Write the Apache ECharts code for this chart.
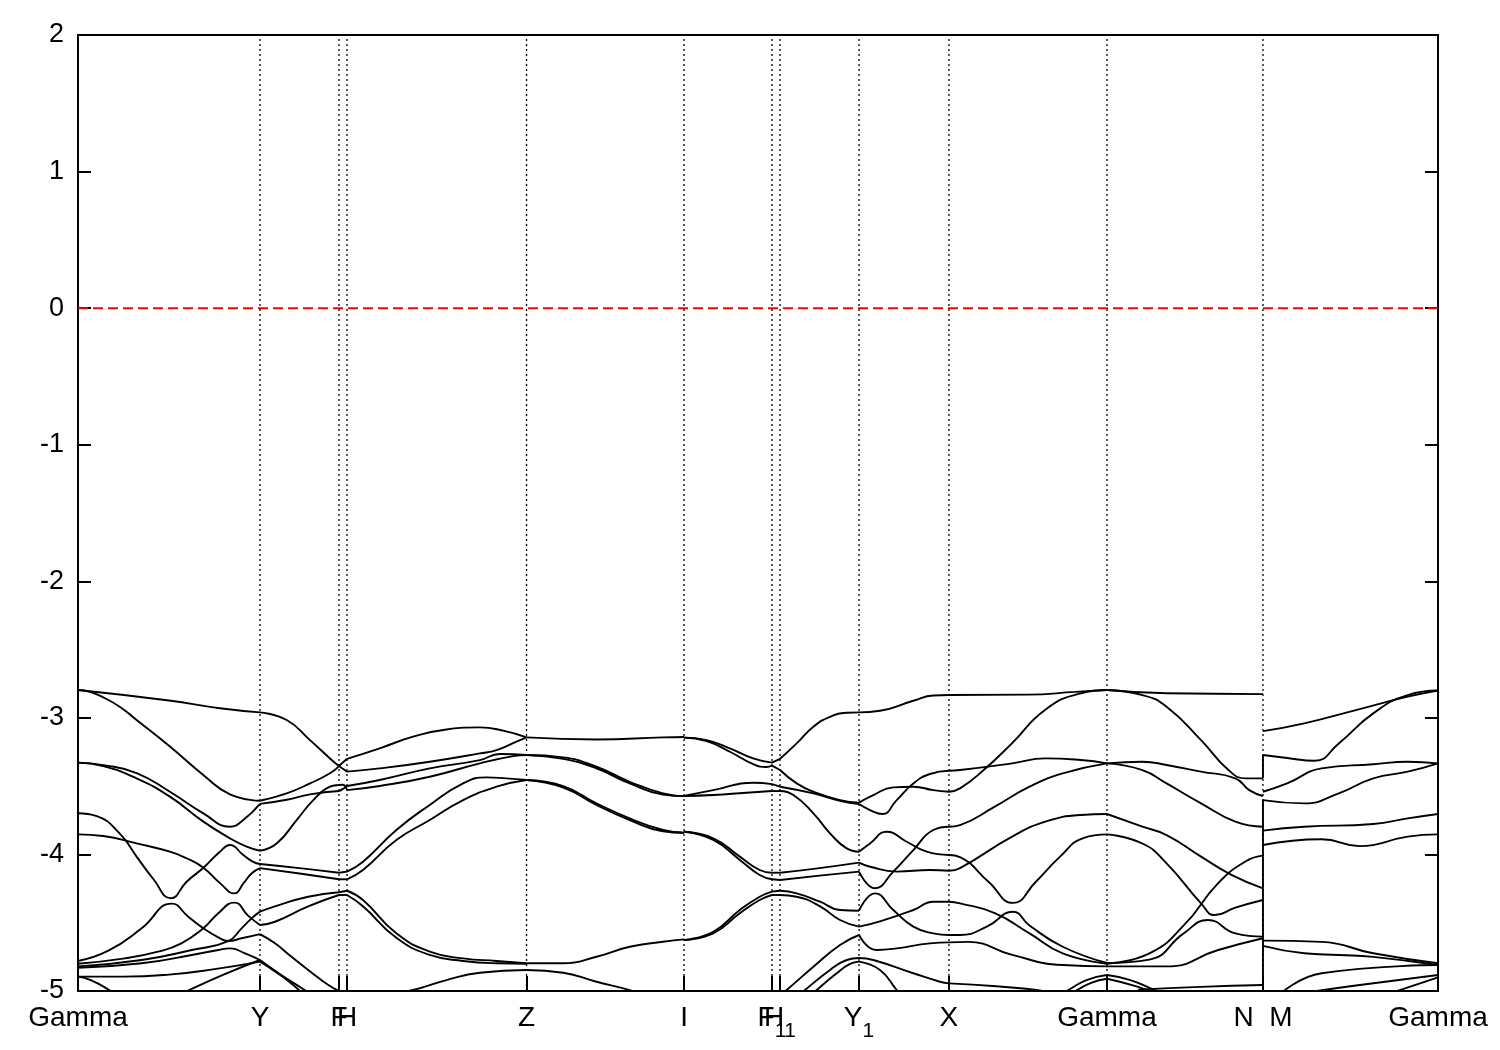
<!DOCTYPE html>
<html>
<head>
<meta charset="utf-8">
<script src="https://cdn.jsdelivr.net/npm/echarts@6/dist/echarts.min.js"></script>
<style>
html,body{margin:0;padding:0;background:#fff;}
#chart{width:1500px;height:1050px;}
</style>
</head>
<body>
<div id="chart"></div>
<script>
// High-symmetry points along the k-path (path fraction) and their labels
const kLabels = ['Gamma','Y','F','H','Z','I','F_1','H_1','Y_1','X','Gamma','N  M','Gamma'];
const kPos = [0, 0.1338, 0.1919, 0.1978, 0.3298, 0.4456, 0.5103, 0.5162, 0.5743, 0.6404, 0.7566, 0.8713, 1.0];
const yRange = [-5, 2];
const fermiLevel = 0;

// Bands per segment: each curve is a list of [fraction along segment, energy (eV)]
const bandsGammaY = [
  [[0,-2.796],[0.5,-2.873],[0.78,-2.93],[1,-2.96]],
  [[0,-2.796],[0.066,-2.81],[0.139,-2.85],[0.231,-2.92],[0.322,-3.016],[0.505,-3.21],[0.69,-3.42],[0.835,-3.56],[1,-3.607]],
  [[0,-3.328],[0.139,-3.346],[0.322,-3.404],[0.505,-3.541],[0.689,-3.699],[0.835,-3.797],[0.908,-3.748],[1,-3.63]],
  [[0,-3.328],[0.139,-3.353],[0.322,-3.443],[0.505,-3.577],[0.689,-3.76],[0.835,-3.882],[0.927,-3.943],[1,-3.973]],
  [[0,-3.699],[0.103,-3.72],[0.231,-3.85],[0.322,-4.016],[0.414,-4.18],[0.51,-4.321],[0.597,-4.20],[0.689,-4.097],[0.78,-3.98],[0.835,-3.931],[0.908,-4.004],[0.963,-4.055],[1,-4.07]],
  [[0,-3.853],[0.139,-3.865],[0.322,-3.919],[0.505,-3.98],[0.597,-4.028],[0.689,-4.097],[0.78,-4.21],[0.86,-4.285],[0.91,-4.21],[0.955,-4.138],[1,-4.10]],
  [[0,-4.78],[0.167,-4.705],[0.35,-4.541],[0.515,-4.36],[0.606,-4.456],[0.689,-4.541],[0.771,-4.607],[0.826,-4.634],[0.899,-4.614],[1,-4.583]],
  [[0,-4.80],[0.258,-4.761],[0.44,-4.712],[0.568,-4.651],[0.689,-4.541],[0.771,-4.43],[0.859,-4.353],[0.936,-4.45],[1,-4.517]],
  [[0,-4.82],[0.35,-4.773],[0.625,-4.70],[0.826,-4.634],[0.899,-4.541],[0.954,-4.468],[1,-4.419]],
  [[0,-4.83],[0.35,-4.797],[0.625,-4.736],[0.771,-4.70],[0.835,-4.688],[0.918,-4.724],[1,-4.773]],
  [[0,-4.895],[0.25,-4.895],[0.5,-4.88],[0.75,-4.84],[1,-4.785]],
  [[0.55,-5.03],[0.6,-5.0],[0.8,-4.88],[1,-4.773]],
  [[0,-4.895],[0.07,-4.92],[0.167,-4.99],[0.23,-5.05]]
];
const bandsYF = [
  [[0,-2.96],[0.338,-3.016],[0.633,-3.163],[0.886,-3.297],[1,-3.353]],
  [[0,-3.607],[0.338,-3.553],[0.633,-3.48],[0.886,-3.406],[1,-3.353]],
  [[0,-3.63],[0.338,-3.60],[0.633,-3.56],[1,-3.536]],
  [[0,-3.973],[0.211,-3.92],[0.464,-3.748],[0.675,-3.602],[0.886,-3.504],[1,-3.492]],
  [[0,-4.07],[0.5,-4.10],[1,-4.134]],
  [[0,-4.10],[0.5,-4.14],[1,-4.182]],
  [[0,-4.419],[0.19,-4.38],[0.61,-4.31],[1,-4.277]],
  [[0,-4.517],[0.19,-4.493],[0.61,-4.38],[1,-4.297]],
  [[0,-4.583],[0.19,-4.651],[0.40,-4.75],[0.61,-4.846],[0.865,-4.956],[1,-5.0]],
  [[0,-4.773],[0.27,-4.883],[0.565,-4.993],[0.7,-5.05]],
  [[0,-4.785],[0.2,-4.86],[0.45,-4.97],[0.55,-5.03]]
];
const bandsFH = [
  [[0,-3.353],[1,-3.30]],
  [[0,-3.353],[1,-3.394]],
  [[0,-3.492],[0.5,-3.49],[1,-3.529]],
  [[0,-3.536],[0.5,-3.52],[1,-3.499]],
  [[0,-4.134],[1,-4.126]],
  [[0,-4.182],[1,-4.182]],
  [[0,-4.277],[1,-4.266]],
  [[0,-4.297],[1,-4.297]]
];
const bandsHZ = [
  [[0,-3.30],[0.182,-3.223],[0.368,-3.138],[0.554,-3.085],[0.74,-3.07],[0.87,-3.094],[1,-3.143]],
  [[0,-3.394],[0.182,-3.37],[0.461,-3.321],[0.74,-3.26],[0.833,-3.236],[0.944,-3.174],[1,-3.143]],
  [[0,-3.499],[0.182,-3.455],[0.461,-3.37],[0.74,-3.309],[0.851,-3.265],[1,-3.272]],
  [[0,-3.529],[0.182,-3.499],[0.461,-3.431],[0.74,-3.333],[0.926,-3.28],[1,-3.272]],
  [[0,-4.126],[0.089,-4.053],[0.275,-3.821],[0.461,-3.638],[0.647,-3.48],[0.777,-3.436],[0.888,-3.443],[1,-3.455]],
  [[0,-4.182],[0.089,-4.114],[0.275,-3.895],[0.461,-3.748],[0.647,-3.602],[0.833,-3.504],[1,-3.455]],
  [[0,-4.266],[0.089,-4.334],[0.275,-4.578],[0.461,-4.712],[0.647,-4.761],[0.833,-4.78],[1,-4.797]],
  [[0,-4.297],[0.089,-4.38],[0.275,-4.61],[0.461,-4.736],[0.647,-4.78],[0.833,-4.797],[1,-4.80]],
  [[0.2,-5.03],[0.368,-4.993],[0.554,-4.92],[0.74,-4.866],[1,-4.846]]
];
const bandsZI = [
  [[0,-3.143],[0.444,-3.158],[0.867,-3.143],[1,-3.14]],
  [[0,-3.272],[0.233,-3.289],[0.444,-3.358],[0.655,-3.468],[0.867,-3.553],[1,-3.573]],
  [[0,-3.272],[0.233,-3.30],[0.444,-3.37],[0.655,-3.48],[0.867,-3.562],[1,-3.573]],
  [[0,-3.455],[0.233,-3.50],[0.444,-3.626],[0.655,-3.736],[0.867,-3.821],[1,-3.841]],
  [[0,-3.455],[0.233,-3.51],[0.444,-3.638],[0.655,-3.748],[0.867,-3.83],[1,-3.841]],
  [[0,-4.797],[0.233,-4.797],[0.444,-4.749],[0.655,-4.676],[0.867,-4.639],[1,-4.622]],
  [[0,-4.846],[0.233,-4.866],[0.444,-4.932],[0.655,-4.993],[0.761,-5.03]]
];
const bandsIF1 = [
  [[0,-3.145],[0.257,-3.163],[0.521,-3.223],[0.785,-3.297],[1,-3.328]],
  [[0,-3.145],[0.257,-3.17],[0.521,-3.248],[0.785,-3.338],[0.936,-3.36],[1,-3.35]],
  [[0,-3.572],[0.332,-3.529],[0.785,-3.475],[1,-3.485]],
  [[0,-3.572],[0.332,-3.565],[0.709,-3.548],[1,-3.536]],
  [[0,-3.834],[0.332,-3.882],[0.634,-4.016],[0.86,-4.114],[1,-4.134]],
  [[0,-3.834],[0.332,-3.894],[0.634,-4.04],[0.86,-4.151],[1,-4.182]],
  [[0,-4.627],[0.332,-4.566],[0.634,-4.407],[0.86,-4.31],[1,-4.272]],
  [[0,-4.627],[0.332,-4.578],[0.634,-4.431],[0.86,-4.334],[1,-4.297]]
];
const bandsF1H1 = [
  [[0,-3.328],[1,-3.30]],
  [[0,-3.35],[1,-3.382]],
  [[0,-3.485],[1,-3.504]],
  [[0,-3.536],[1,-3.536]],
  [[0,-4.134],[1,-4.134]],
  [[0,-4.182],[1,-4.187]],
  [[0,-4.272],[1,-4.266]],
  [[0,-4.297],[1,-4.297]]
];
const bandsH1Y1 = [
  [[0,-3.30],[0.211,-3.187],[0.422,-3.065],[0.633,-2.992],[0.844,-2.963],[1,-2.96]],
  [[0,-3.382],[0.211,-3.48],[0.422,-3.541],[0.759,-3.602],[1,-3.621]],
  [[0,-3.504],[0.422,-3.553],[0.759,-3.607],[1,-3.631]],
  [[0,-3.536],[0.169,-3.565],[0.422,-3.699],[0.633,-3.846],[0.844,-3.956],[1,-3.98]],
  [[0,-4.134],[0.5,-4.10],[1,-4.06]],
  [[0,-4.187],[0.5,-4.155],[1,-4.126]],
  [[0,-4.266],[0.211,-4.285],[0.506,-4.346],[0.759,-4.407],[1,-4.412]],
  [[0,-4.297],[0.211,-4.31],[0.506,-4.38],[0.759,-4.48],[1,-4.529]],
  [[0,-5.03],[0.084,-4.993],[0.422,-4.822],[0.759,-4.663],[1,-4.59]],
  [[0.25,-5.03],[0.316,-4.993],[0.633,-4.846],[0.844,-4.773],[1,-4.758]],
  [[0.4,-5.03],[0.464,-4.993],[0.717,-4.87],[0.886,-4.802],[1,-4.785]]
];
const bandsY1X = [
  [[0,-2.96],[0.233,-2.948],[0.604,-2.875],[0.826,-2.836],[1,-2.833]],
  [[0,-3.621],[0.159,-3.565],[0.381,-3.509],[0.604,-3.504],[0.826,-3.529],[1,-3.541]],
  [[0,-3.631],[0.122,-3.675],[0.259,-3.704],[0.419,-3.602],[0.604,-3.48],[0.789,-3.411],[1,-3.387]],
  [[0,-3.98],[0.122,-3.92],[0.307,-3.834],[0.53,-3.907],[0.752,-3.98],[1,-4.004]],
  [[0,-4.06],[0.122,-4.09],[0.419,-4.126],[0.789,-4.114],[1,-4.12]],
  [[0,-4.126],[0.178,-4.248],[0.381,-4.126],[0.604,-3.968],[0.826,-3.821],[1,-3.797]],
  [[0,-4.412],[0.178,-4.285],[0.381,-4.407],[0.604,-4.529],[0.826,-4.578],[1,-4.59]],
  [[0,-4.529],[0.233,-4.49],[0.604,-4.407],[0.826,-4.346],[1,-4.346]],
  [[0,-4.59],[0.196,-4.70],[0.419,-4.688],[0.789,-4.651],[1,-4.644]],
  [[0,-4.758],[0.159,-4.773],[0.604,-4.87],[0.9,-4.932],[1,-4.944]],
  [[0,-4.785],[0.233,-4.846],[0.419,-4.993],[0.53,-5.07]]
];
const bandsXGamma = [
  [[0,-2.833],[0.5,-2.83],[0.8,-2.81],[1,-2.796]],
  [[0,-3.541],[0.07,-3.516],[0.22,-3.382],[0.40,-3.185],[0.61,-2.94],[0.835,-2.82],[1,-2.796]],
  [[0,-3.387],[0.07,-3.382],[0.40,-3.333],[0.61,-3.297],[0.835,-3.309],[1,-3.333]],
  [[0,-3.797],[0.07,-3.785],[0.29,-3.65],[0.51,-3.504],[0.72,-3.406],[1,-3.333]],
  [[0,-4.004],[0.07,-4.02],[0.25,-4.20],[0.405,-4.355],[0.55,-4.2],[0.70,-4.02],[0.85,-3.88],[1,-3.853]],
  [[0,-4.12],[0.07,-4.10],[0.40,-3.87],[0.61,-3.76],[0.835,-3.711],[1,-3.704]],
  [[0,-4.346],[0.07,-4.358],[0.29,-4.43],[0.51,-4.578],[0.72,-4.724],[1,-4.80]],
  [[0,-4.59],[0.07,-4.59],[0.24,-4.529],[0.405,-4.42],[0.51,-4.52],[0.72,-4.676],[1,-4.795]],
  [[0,-4.644],[0.12,-4.64],[0.40,-4.736],[0.72,-4.81],[1,-4.82]],
  [[0,-4.944],[0.3,-4.965],[0.5,-4.985],[0.6,-5.0],[0.7,-5.02]],
  [[0.7,-5.02],[0.745,-5.0],[0.87,-4.92],[1,-4.883]],
  [[0.75,-5.03],[0.8,-5.0],[0.9,-4.94],[1,-4.91]]
];
const bandsGammaN = [
  [[0,-2.796],[0.382,-2.82],[1,-2.826]],
  [[0,-2.796],[0.227,-2.833],[0.382,-2.918],[0.603,-3.163],[0.779,-3.382],[0.89,-3.443],[1,-3.443]],
  [[0,-3.333],[0.227,-3.321],[0.382,-3.345],[0.603,-3.394],[0.823,-3.443],[0.912,-3.529],[1,-3.572]],
  [[0,-3.333],[0.227,-3.382],[0.382,-3.48],[0.603,-3.626],[0.823,-3.76],[1,-3.797]],
  [[0,-3.704],[0.227,-3.797],[0.382,-3.858],[0.603,-4.016],[0.801,-4.151],[1,-4.248]],
  [[0,-3.853],[0.227,-3.92],[0.382,-4.065],[0.603,-4.358],[0.691,-4.444],[0.823,-4.39],[1,-4.334]],
  [[0,-4.80],[0.272,-4.724],[0.492,-4.52],[0.713,-4.21],[0.89,-4.05],[1,-4.009]],
  [[0,-4.795],[0.272,-4.77],[0.492,-4.578],[0.647,-4.48],[0.823,-4.578],[1,-4.602]],
  [[0,-4.82],[0.382,-4.82],[0.713,-4.70],[1,-4.614]],
  [[0,-4.883],[0.15,-4.92],[0.3,-4.99],[0.4,-5.03]],
  [[0.2,-4.99],[0.6,-4.97],[1,-4.956]],
  [[0,-4.91],[0.2,-4.97],[0.3,-5.02]]
];
const bandsMGamma = [
  [[0,-3.097],[0.236,-3.04],[0.531,-2.943],[0.827,-2.845],[1,-2.80]],
  [[0,-3.272],[0.138,-3.294],[0.295,-3.314],[0.433,-3.187],[0.63,-2.967],[0.827,-2.833],[1,-2.80]],
  [[0,-3.541],[0.138,-3.48],[0.335,-3.37],[0.63,-3.34],[0.827,-3.321],[1,-3.333]],
  [[0,-3.602],[0.236,-3.626],[0.433,-3.553],[0.63,-3.443],[0.827,-3.394],[1,-3.333]],
  [[0,-3.826],[0.236,-3.797],[0.63,-3.777],[0.827,-3.736],[1,-3.704]],
  [[0,-3.931],[0.335,-3.889],[0.551,-3.939],[0.827,-3.87],[1,-3.853]],
  [[0,-4.631],[0.335,-4.64],[0.63,-4.724],[1,-4.797]],
  [[0,-4.67],[0.236,-4.724],[0.433,-4.736],[0.63,-4.75],[1,-4.81]],
  [[0.1,-5.02],[0.335,-4.87],[1,-4.81]],
  [[0.2,-5.02],[0.531,-4.96],[1,-4.883]],
  [[0.72,-5.02],[1,-4.9]]
];
// jump between N and M (same k): connector spans in energy
const nmJoin = [[-3.272,-3.443],[-3.60,-5.05]];

const segments = [
  [0,1,bandsGammaY],[1,2,bandsYF],[2,3,bandsFH],[3,4,bandsHZ],[4,5,bandsZI],
  [5,6,bandsIF1],[6,7,bandsF1H1],[7,8,bandsH1Y1],[8,9,bandsY1X],[9,10,bandsXGamma],
  [10,11,bandsGammaN],[11,12,bandsMGamma]
];

const FONT = '"Liberation Sans", Arial, Helvetica, sans-serif';
const bandStyle = {color:'#000', width:1.9};
const series = [];

// dotted verticals at interior high-symmetry points
kPos.slice(1, kPos.length-1).forEach(k => {
  series.push({type:'line', data:[[k,yRange[0]],[k,yRange[1]]], showSymbol:false, silent:true,
    lineStyle:{color:'#000', width:1.3, type:[2,3]}, z:2});
});
// Fermi level
series.push({type:'line', data:[[kPos[0],fermiLevel],[kPos[kPos.length-1],fermiLevel]], showSymbol:false, silent:true,
  lineStyle:{color:'#ff0000', width:2, type:[10,5]}, z:2});

segments.forEach(([i0,i1,curves]) => {
  const k0 = kPos[i0], k1 = kPos[i1];
  curves.forEach(c => {
    series.push({
      type:'line', data: c.map(p => [k0 + p[0]*(k1-k0), p[1]]),
      showSymbol:false, smooth: c.length > 2 ? 0.5 : false,
      lineStyle: bandStyle, silent:true, clip:true, z:3
    });
  });
});
nmJoin.forEach(([a,b]) => {
  series.push({type:'line', data:[[kPos[11],a],[kPos[11],b]], showSymbol:false,
    lineStyle: bandStyle, silent:true, clip:true, z:3});
});

function fmtLabel(v){
  let idx = 0, best = 1e9;
  kPos.forEach((k,i)=>{ const d=Math.abs(k-v); if(d<best){best=d; idx=i;} });
  const s = kLabels[idx];
  if (s.indexOf('_') >= 0) { const [b, sub] = s.split('_'); return '{b|' + b + '}{s|' + sub + '}'; }
  return '{b|' + s + '}';
}

const chart = echarts.init(document.getElementById('chart'));
chart.setOption({
  animation:false,
  backgroundColor:'#fff',
  grid:{left:78, right:62, top:35, bottom:59, show:true, borderColor:'#000', borderWidth:2, backgroundColor:'transparent', outerBoundsMode:'none'},
  xAxis:{
    type:'value', min:kPos[0], max:kPos[kPos.length-1],
    axisLine:{show:false, onZero:false},
    splitLine:{show:false},
    axisTick:{show:true, inside:true, length:15, customValues:kPos, lineStyle:{color:'#000', width:2}},
    axisLabel:{
      show:true, margin:13, customValues:kPos, formatter:fmtLabel,
      rich:{
        b:{fontSize:28, fontFamily:FONT, color:'#000', lineHeight:30, verticalAlign:'top'},
        s:{fontSize:21, fontFamily:FONT, color:'#000', lineHeight:21, verticalAlign:'top', padding:[17,0,0,0]}
      }
    }
  },
  yAxis:[{
    type:'value', min:yRange[0], max:yRange[1], interval:1, position:'left',
    axisLine:{show:false}, splitLine:{show:false},
    axisTick:{show:true, inside:true, length:13, lineStyle:{color:'#000', width:2}},
    axisLabel:{fontSize:27, fontFamily:FONT, color:'#000', margin:14}
  },{
    type:'value', min:yRange[0], max:yRange[1], interval:1, position:'right',
    axisLine:{show:false}, splitLine:{show:false},
    axisTick:{show:true, inside:true, length:13, lineStyle:{color:'#000', width:2}},
    axisLabel:{show:false}
  }],
  series: series
});
</script>
</body>
</html>
